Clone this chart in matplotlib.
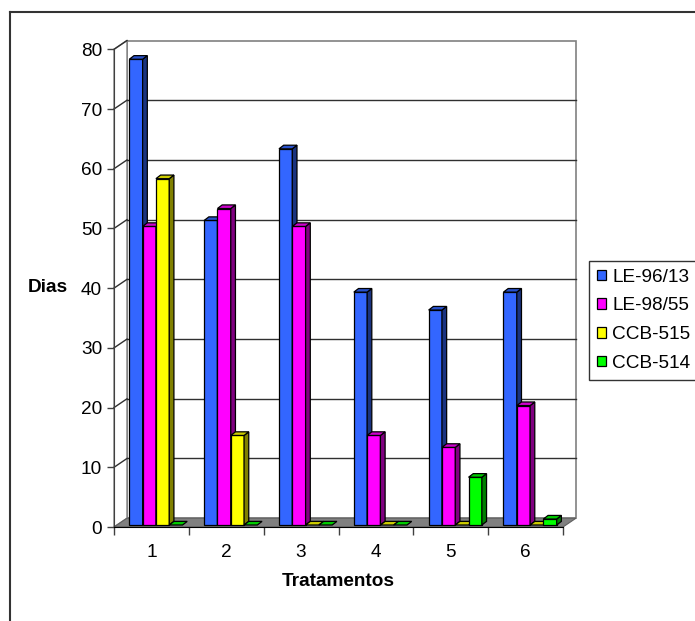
import matplotlib
matplotlib.use("Agg")
import matplotlib.pyplot as plt
from matplotlib.patches import Polygon, Rectangle
from matplotlib.lines import Line2D
from matplotlib.colors import to_rgb

plt.rcParams["font.family"] = ["Liberation Sans", "DejaVu Sans"]

# data
tratamentos = ["1", "2", "3", "4", "5", "6"]
series = ["LE-96/13", "LE-98/55", "CCB-515", "CCB-514"]
le_96_13 = [78, 51, 63, 39, 36, 39]
le_98_55 = [50, 53, 50, 15, 13, 20]
ccb_515 = [58, 15, 0, 0, 0, 0]
ccb_514 = [0, 0, 0, 0, 8, 1]
yticks = [0, 10, 20, 30, 40, 50, 60, 70, 80]

values = [le_96_13, le_98_55, ccb_515, ccb_514]
colors = ["#3366FF", "#FF00FF", "#FFFF00", "#00FF00"]

W, H = 695, 621
FS = 13.7

fig = plt.figure(figsize=(W / 100, H / 100), dpi=100)
fig.patch.set_facecolor("white")

# axes: front plane, x 0..6 -> px 114..563, y 0..80 -> px 527..49.3
x0, x1, y0, y1 = 114, 563, 527, 49.3
ax = fig.add_axes([x0 / W, (H - y0) / H, (x1 - x0) / W, (y0 - y1) / H])
ax.set_xlim(0, len(tratamentos))
ax.set_ylim(0, 80)
ux = (x1 - x0) / len(tratamentos)   # px per category
uy = (y0 - y1) / 80                 # px per day

# wall depth (px -> data)
DX, DY = 13 / ux, 8.8 / uy
n = len(tratamentos)

# back wall, left wall, floor
ax.add_patch(Polygon([(DX, DY), (n + DX, DY), (n + DX, 80 + DY), (DX, 80 + DY)],
                     closed=True, fc="white", ec="#808080", lw=1.2, clip_on=False, zorder=0.5))
ax.add_patch(Polygon([(0, 0), (DX, DY), (DX, 80 + DY), (0, 80)],
                     closed=True, fc="white", ec="#808080", lw=1.0, clip_on=False, zorder=0.6))
ax.add_patch(Polygon([(0, 0), (n, 0), (n + DX, DY), (DX, DY)],
                     closed=True, fc="#808080", ec="#606060", lw=0.8, clip_on=False, zorder=0.7))

for v in yticks[1:-1]:
    ax.plot([DX, n + DX], [v + DY, v + DY], color="#303030", lw=1.0, clip_on=False, zorder=0.8)
for v in yticks[1:]:
    ax.plot([0, DX], [v, v + DY], color="#303030", lw=1.0, clip_on=False, zorder=0.8)

# bars with a bit of depth
bw = 13.3 / ux
gap = (1 - 4 * bw) / 2
bx = 4.5 / ux
by = 2 / uy
sx, sy = 4.7 / ux, 3.6 / uy


def shade(c, f):
    r, g, b = to_rgb(c)
    return (r * f, g * f, b * f)


z = 2.0
for i in range(n):
    for j, (vals, c) in enumerate(zip(values, colors)):
        h = vals[i]
        xl = i + gap + bx + j * bw
        xr = xl + bw
        z += 0.01
        if h > 0:
            bars = ax.bar(xl, h, width=bw, bottom=by, align="edge", color=c,
                          edgecolor="black", linewidth=0.9, zorder=z)
            for p in bars:
                p.set_clip_on(False)
            ax.add_patch(Polygon([(xr, by), (xr + sx, by + sy), (xr + sx, by + h + sy), (xr, by + h)],
                                 closed=True, fc=shade(c, 0.5), ec="black", lw=0.9,
                                 clip_on=False, zorder=z))
        ax.add_patch(Polygon([(xl, by + h), (xr, by + h), (xr + sx, by + h + sy), (xl + sx, by + h + sy)],
                             closed=True, fc=shade(c, 0.8), ec="black", lw=0.9,
                             clip_on=False, zorder=z))

# axes styling
for s in ["top", "right"]:
    ax.spines[s].set_visible(False)
ax.spines["left"].set_color("#404040")
ax.spines["bottom"].set_color("black")
ax.spines["left"].set_zorder(0.9)
ax.set_facecolor("none")

ax.set_yticks(yticks)
ax.set_yticklabels([str(v) for v in yticks])
ax.tick_params(axis="y", direction="out", length=5, width=1, pad=3.5,
               labelsize=FS, colors="#404040", labelcolor="black")

ax.set_xticks(range(n + 1))
ax.set_xticklabels([""] * (n + 1))
ax.set_xticks([i + 0.5 for i in range(n)], minor=True)
ax.set_xticklabels(tratamentos, minor=True)
ax.tick_params(axis="x", which="major", direction="out", length=6, width=1, colors="#404040")
ax.tick_params(axis="x", which="minor", length=0, pad=12, labelsize=FS)

ax.set_xlabel("Tratamentos", fontsize=FS, fontweight="bold")
ax.xaxis.set_label_coords(0.5, -(582 - y0) / (y0 - y1), transform=ax.transAxes)
ax.xaxis.label.set_va("center")
ax.set_ylabel("Dias", fontsize=FS, fontweight="bold", rotation=0)
ax.yaxis.set_label_coords(-(x0 - 48) / (x1 - x0), (y0 - 287) / (y0 - y1), transform=ax.transAxes)
ax.yaxis.label.set_va("center")
ax.yaxis.label.set_ha("center")

# legend (runs off the right edge like the original)
handles = [Rectangle((0, 0), 1, 1, fc=c, ec="black", lw=0.9) for c in colors]
leg = fig.legend(handles, series, loc="upper left", bbox_to_anchor=(589 / W, 1 - 261 / H),
                 fontsize=FS, frameon=True, fancybox=False, handlelength=0.47,
                 handleheight=0.47, handletextpad=0.35, borderpad=0.4, labelspacing=0.62,
                 borderaxespad=0)
leg.get_frame().set_edgecolor("black")
leg.get_frame().set_linewidth(1.0)

# outer chart border (cut off at right and bottom)
fig.add_artist(Line2D([10 / W, 10 / W], [0, 1 - 12 / H], color="#333333", lw=1.5))
fig.add_artist(Line2D([10 / W, 1], [1 - 12 / H, 1 - 12 / H], color="#333333", lw=1.5))

fig.savefig("out.png", dpi=100)
